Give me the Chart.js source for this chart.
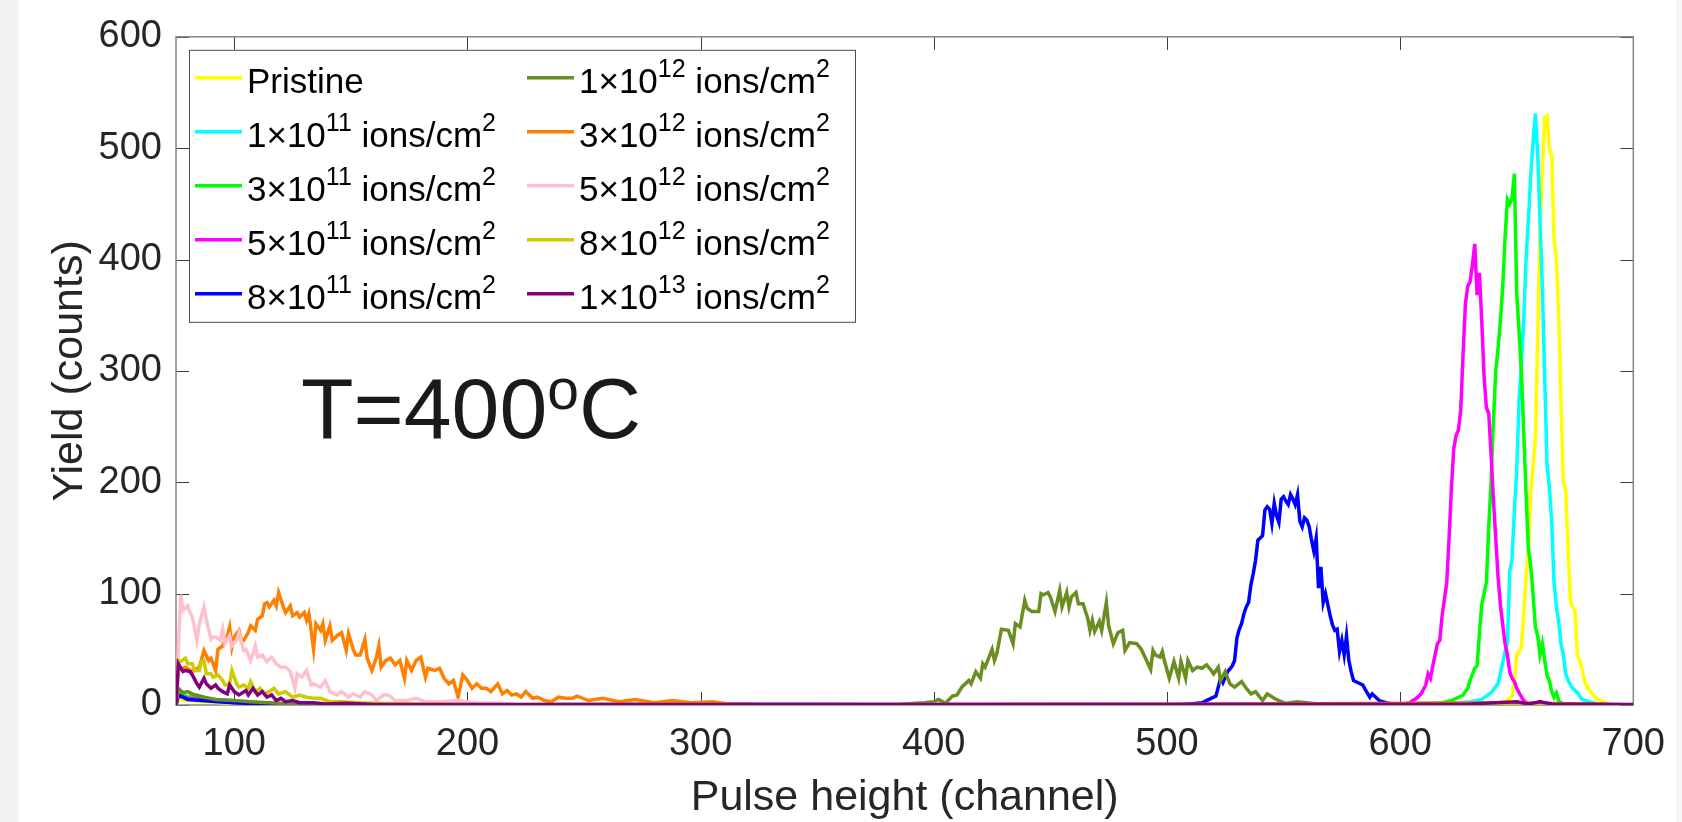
<!DOCTYPE html>
<html>
<head>
    <meta charset="UTF-8">
    <title>Yield vs pulse height, T=400ºC</title>
    <script src="https://cdn.jsdelivr.net/npm/chart.js"></script>
    <style>
        html, body {
            margin: 0;
            padding: 0;
        }

        body {
            width: 1682px;
            height: 822px;
            overflow: hidden;
            background: linear-gradient(to right, #f2f2f2 0 19px, #ffffff 19px 1676px, #f6f6f6 1676px);
        }

        .chart-container {
            position: relative;
            width: 1682px;
            height: 822px;
        }
    </style>
</head>
<body>
<div class="chart-container">
    <canvas id="rbsChart"></canvas>
</div>

<script>
    // legend text, ^{..} marks a superscript
    const seriesLabels = [
        'Pristine',
        '1×10^{11} ions/cm^{2}',
        '3×10^{11} ions/cm^{2}',
        '5×10^{11} ions/cm^{2}',
        '8×10^{11} ions/cm^{2}',
        '1×10^{12} ions/cm^{2}',
        '3×10^{12} ions/cm^{2}',
        '5×10^{12} ions/cm^{2}',
        '8×10^{12} ions/cm^{2}',
        '1×10^{13} ions/cm^{2}'
    ];
    const seriesColors = ['#ffff00', '#00ffff', '#00ff00', '#ff00ff', '#0000ff',
        '#6b8e23', '#ff8000', '#ffc0cb', '#cccc00', '#800080'];

    const xTickValues = [100, 200, 300, 400, 500, 600, 700];
    const yTickValues = [0, 100, 200, 300, 400, 500, 600];
    const xTitle = 'Pulse height (channel)';
    const yTitle = 'Yield (counts)';
    const tempText = 'T=400^{o}C';

    // [channel, counts]
    const pristine = [[75,0],[76,5],[80,4],[86,3],[95,2],[110,1],[130,0],[250,0.5],[400,0],[560,0.5],[620,1],[640,2],
        [645,3],[648,8],[649,20],[650,45],[651,48],[652,52],[653,80],[654,115],[655,140],[656,190],[657,215],[658,240],
        [659,330],[660,430],[661,480],[662,527],[663,529],[664,500],[665,493],[666,420],[667,400],[668,350],[669,270],
        [670,200],[671,194],[672,140],[673,93],[674,88],[675,85],[676,45],[677,40],[678,33],[679,22],[680,17],[682,11],
        [684,6],[686,4],[688,2],[690,0],[700,0]];
    const ions1e11 = [[75,0],[76,10],[79,6],[83,7],[88,4],[95,3],[105,2],[120,0.5],[140,0],[300,0.5],[450,0],[600,0.5],
        [625,2],[630,3],[635,5],[639,11],[642,19],[644,38],[645,48],[646,55],[647,120],[648,131],[649,175],[650,210],
        [651,273],[652,305],[653,345],[654,400],[655,435],[656,475],[657,505],[658,531],[659,495],[660,435],[661,375],
        [662,295],[663,215],[664,196],[665,165],[666,110],[667,88],[668,75],[669,55],[670,45],[671,28],[672,22],[674,15],
        [676,11],[678,5],[681,3],[684,1],[688,0],[700,0]];
    const ions3e11 = [[75,0],[76,12],[80,7],[84,9],[90,5],[97,4],[108,2],[125,0.5],[150,0],[350,0.5],[500,0],[600,1],
        [618,2],[622,4],[625,7],[627,9],[629,15],[630,22],[632,33],[633,35],[634,64],[635,90],[636,100],[637,110],
        [638,160],[639,200],[640,255],[641,300],[642,320],[643,345],[644,375],[645,420],[646,454],[647,450],[648,455],
        [649,477],[650,370],[651,335],[652,300],[653,245],[654,190],[655,140],[656,125],[657,100],[658,70],[659,62],
        [660,45],[661,55],[662,40],[663,27],[664,22],[665,12],[666,7],[667,11],[668,4],[669,2],[672,0],[680,1],[700,0]];
    const ions5e11 = [[75,0],[76,8],[80,6],[85,5],[92,4],[100,2],[115,1],[130,0],[300,0.5],[500,0],[595,0.5],[600,0],
        [604,2],[607,6],[609,10],[611,18],[612,28],[613,24],[614,35],[615,45],[616,55],[617,58],[618,80],[619,95],
        [620,110],[621,150],[622,195],[623,230],[624,242],[625,247],[626,265],[627,315],[628,360],[629,376],[630,380],
        [631,395],[632,414],[633,368],[634,388],[635,345],[636,295],[637,267],[638,262],[639,225],[640,185],[641,150],
        [642,115],[643,90],[644,72],[645,55],[646,45],[647,30],[648,24],[649,21],[650,15],[651,11],[653,4],[655,1],
        [658,0],[660,3],[662,0],[700,0]];
    const ions8e11 = [[75,0],[76,9],[80,5],[86,4],[93,3],[100,2],[112,1],[130,0],[300,0.5],[505,0],[510,1],[515,2],
        [518,5],[521,8],[522,16],[523,24],[524,20],[525,25],[526,30],[528,35],[529,40],[530,60],[531,68],[532,73],
        [533,82],[534,88],[535,92],[536,108],[537,118],[538,130],[539,148],[540,150],[541,152],[542,175],[543,178],
        [544,176],[545,163],[546,181],[547,170],[548,164],[549,185],[550,187],[551,183],[552,180],[553,189],[554,185],
        [555,180],[556,189],[557,165],[558,160],[559,168],[560,166],[561,160],[562,148],[563,138],[564,150],[565,105],
        [566,124],[567,92],[568,100],[569,90],[570,80],[571,72],[572,67],[573,68],[574,48],[575,58],[576,45],[577,62],
        [578,40],[579,30],[580,22],[582,20],[584,18],[585,14],[587,7],[588,10],[589,8],[591,4],[594,2],[599,0],[640,1],
        [700,0]];
    const ions1e12 = [[75,0],[76,15],[78,11],[80,12],[83,9],[87,7],[92,5],[100,4],[107,3],[115,2],[125,1],[150,0.5],
        [250,0],[384,0],[392,1.5],[396,2],[400,3],[402,5],[405,1.5],[408,8],[410,9],[412,16],[415,22],[416,19],[418,30],
        [420,24],[421,37],[422,34],[425,50],[426,40],[427,46],[429,68],[432,67],[434,55],[435,73],[437,70],[439,94],
        [440,87],[442,84],[445,84],[446,100],[447,99],[449,101],[450,97],[452,84],[454,103],[455,88],[457,101],[458,88],
        [459,97],[461,101],[462,91],[464,91],[466,78],[467,67],[468,76],[469,66],[471,75],[472,67],[474,92],[475,71],
        [477,55],[479,65],[481,67],[482,49],[484,56],[487,55],[489,50],[491,41],[493,32],[494,49],[495,45],[497,43],
        [498,48],[499,39],[501,24],[503,39],[505,24],[506,39],[508,24],[509,40],[511,31],[513,34],[515,33],[517,36],
        [519,31],[520,28],[522,34],[523,22],[525,30],[527,19],[529,16],[532,21],[534,15],[536,10],[538,12],[541,4],
        [543,10],[546,6],[548,4],[551,1.5],[556,3],[562,1.5],[570,0],[620,1],[700,0]];
    const ions3e12 = [[75,0],[76,31],[79,34],[82,30],[85,34],[87,49],[89,40],[90,42],[92,31],[93,50],[95,53],[97,62],
        [98,70],[99,52],[100,61],[102,67],[103,58],[104,58],[106,65],[107,71],[109,67],[110,77],[112,80],[113,91],
        [114,92],[115,88],[117,94],[118,89],[119,101],[120,95],[121,88],[122,83],[124,89],[125,80],[127,83],[128,79],
        [130,83],[131,76],[132,82],[134,50],[135,73],[137,67],[138,73],[139,58],[141,71],[142,58],[144,62],[146,65],
        [148,49],[149,64],[151,50],[152,45],[154,45],[156,59],[157,42],[159,31],[161,43],[162,53],[163,34],[165,40],
        [167,42],[169,36],[171,40],[173,24],[174,40],[176,31],[178,40],[180,43],[182,25],[183,33],[186,31],[188,33],
        [190,24],[192,19],[194,22],[196,7],[198,27],[200,22],[202,15],[204,19],[206,15],[208,15],[210,12],[213,19],
        [215,10],[217,13],[219,9],[221,10],[223,7],[225,12],[228,6],[230,7],[233,4],[236,3],[239,7],[242,6],[245,6],
        [247,8],[252,4],[258,6],[265,3],[272,5],[280,2],[288,4],[296,2],[305,3],[312,1],[330,0],[500,0.5],[650,2],
        [700,0]];
    const ions5e12 = [[75,0],[77,99],[78,85],[80,89],[81,83],[82,79],[84,58],[85,73],[87,88],[88,77],[90,59],[91,61],
        [92,61],[94,58],[95,68],[96,55],[98,62],[99,53],[101,58],[102,65],[104,49],[105,50],[107,40],[109,53],[110,43],
        [112,45],[114,39],[116,43],[118,37],[120,34],[122,34],[124,30],[126,15],[127,28],[129,25],[131,31],[133,18],
        [134,19],[137,16],[139,22],[141,12],[144,9],[146,12],[149,7],[151,10],[154,7],[156,12],[159,9],[161,4],[164,9],
        [166,9],[169,4],[174,4],[178,6],[182,3],[189,3],[196,4],[203,2],[213,1.5],[225,0],[400,0.5],[700,0]];
    const ions8e12 = [[75,2],[76,40],[77,39],[79,42],[80,37],[82,37],[83,31],[85,31],[86,39],[87,40],[88,28],[90,28],
        [91,25],[93,27],[95,22],[96,18],[98,19],[99,31],[101,19],[102,16],[104,18],[106,15],[107,21],[109,12],[111,15],
        [113,10],[115,12],[117,15],[119,10],[122,12],[125,7],[128,9],[131,7],[134,6],[137,6],[141,3],[146,3],[154,2],
        [161,1.5],[175,1],[200,0.5],[230,0],[450,0.5],[700,0]];
    const ions1e13 = [[75,0],[76,37],[78,30],[79,31],[81,30],[82,27],[84,19],[85,16],[87,24],[88,19],[90,15],[92,18],
        [93,15],[95,12],[97,10],[98,18],[100,12],[102,9],[105,13],[106,9],[108,15],[110,9],[112,12],[114,7],[116,9],
        [118,4],[120,6],[122,3],[125,4],[128,2],[134,2],[139,1],[148,1.5],[160,0.5],[300,0.5],[630,1],[650,3],[655,1],
        [660,3],[665,1],[700,0.5]];

    const seriesData = [pristine, ions1e11, ions3e11, ions5e11, ions8e11,
        ions1e12, ions3e12, ions5e12, ions8e12, ions1e13];

    const fontFamily = "'Liberation Sans', Arial, Helvetica, sans-serif";
    Chart.defaults.font.family = fontFamily;

    // text with ^{..} superscripts, left aligned on a baseline
    function drawRich(ctx, text, x, y, size, supScale, supRaise) {
        const parts = text.split(/\^\{([^}]*)\}/);
        let cx = x;
        parts.forEach((p, i) => {
            if (!p) return;
            const sup = i % 2 === 1;
            ctx.font = (sup ? Math.round(size * supScale) : size) + 'px ' + fontFamily;
            ctx.fillText(p, cx, sup ? y - size * supRaise : y);
            cx += ctx.measureText(p).width;
        });
    }

    // box round the axes with inward ticks on all four sides
    const axesBox = {
        id: 'axesBox',
        beforeDatasetsDraw(chart) {
            const {ctx, chartArea: a, scales: {x, y}} = chart;
            const len = 13;
            ctx.save();
            ctx.strokeStyle = '#3c3c3c';
            ctx.lineWidth = 1;
            ctx.beginPath();
            x.ticks.forEach(t => {
                const px = Math.round(x.getPixelForValue(t.value)) + 0.5;
                ctx.moveTo(px, a.bottom);
                ctx.lineTo(px, a.bottom - len);
                ctx.moveTo(px, a.top);
                ctx.lineTo(px, a.top + len);
            });
            y.ticks.forEach(t => {
                const py = Math.round(y.getPixelForValue(t.value)) + 0.5;
                ctx.moveTo(a.left, py);
                ctx.lineTo(a.left + len, py);
                ctx.moveTo(a.right, py);
                ctx.lineTo(a.right - len, py);
            });
            ctx.stroke();
            ctx.strokeStyle = '#858585';
            ctx.lineWidth = 1.5;
            ctx.strokeRect(a.left, a.top, a.right - a.left, a.bottom - a.top);
            ctx.restore();
        }
    };

    // two-column legend inside the axes, column by column like the original
    const insideLegend = {
        id: 'insideLegend',
        afterDatasetsDraw(chart) {
            const {ctx, chartArea: a} = chart;
            const bx = a.left + 13, by = a.top + 13, bw = 666, bh = 272;
            ctx.save();
            ctx.fillStyle = '#ffffff';
            ctx.fillRect(bx, by, bw, bh);
            ctx.strokeStyle = '#4d4d4d';
            ctx.lineWidth = 1;
            ctx.strokeRect(bx + 0.5, by + 0.5, bw, bh);
            ctx.textBaseline = 'alphabetic';
            ctx.textAlign = 'left';
            chart.data.datasets.forEach((ds, i) => {
                const col = Math.floor(i / 5), row = i % 5;
                const lx = bx + 6 + col * 332;
                const ly = by + 28 + row * 54;
                ctx.strokeStyle = ds.borderColor;
                ctx.lineWidth = 3.5;
                ctx.beginPath();
                ctx.moveTo(lx, ly);
                ctx.lineTo(lx + 47, ly);
                ctx.stroke();
                ctx.fillStyle = '#000000';
                drawRich(ctx, ds.label, lx + 52, ly + 15, 35, 0.72, 0.45);
            });
            ctx.restore();
        }
    };

    const tempLabel = {
        id: 'tempLabel',
        afterDatasetsDraw(chart) {
            const {ctx, chartArea: a} = chart;
            ctx.save();
            ctx.fillStyle = '#1a1a1a';
            ctx.textBaseline = 'alphabetic';
            ctx.textAlign = 'left';
            drawRich(ctx, tempText, a.left + 125, a.top + 401, 86, 0.66, 0.33);
            ctx.restore();
        }
    };

    const datasets = seriesLabels.map((label, i) => ({
        label: label,
        data: seriesData[i].map(p => ({x: p[0], y: p[1]})),
        borderColor: seriesColors[i],
        backgroundColor: seriesColors[i],
        borderWidth: 3.5,
        pointRadius: 0,
        tension: 0,
        fill: false,
        order: seriesLabels.length - 1 - i
    }));

    const ctx = document.getElementById('rbsChart').getContext('2d');
    new Chart(ctx, {
        type: 'line',
        data: {datasets: datasets},
        options: {
            responsive: true,
            maintainAspectRatio: false,
            animation: false,
            layout: {padding: {top: 30, right: 42, left: 0, bottom: 0}},
            plugins: {
                legend: {display: false},
                tooltip: {enabled: false}
            },
            scales: {
                x: {
                    type: 'linear',
                    min: 75,
                    max: 700,
                    afterBuildTicks: s => { s.ticks = xTickValues.map(v => ({value: v})); },
                    afterFit: s => { s.height = 117; },
                    grid: {display: false, drawTicks: false},
                    border: {display: false},
                    ticks: {
                        font: {size: 38},
                        color: '#262626',
                        padding: 17,
                        maxRotation: 0,
                        autoSkip: false,
                        callback: v => String(v)
                    },
                    title: {
                        display: true,
                        text: xTitle,
                        font: {size: 43, lineHeight: 1.1},
                        color: '#262626',
                        padding: {top: 0, bottom: 0}
                    }
                },
                y: {
                    min: 0,
                    max: 600,
                    afterBuildTicks: s => { s.ticks = yTickValues.map(v => ({value: v})); },
                    afterFit: s => { s.width = 176; },
                    grid: {display: false, drawTicks: false},
                    border: {display: false},
                    ticks: {
                        font: {size: 38},
                        color: '#262626',
                        padding: 14,
                        callback: v => String(v)
                    },
                    title: {
                        display: true,
                        text: yTitle,
                        font: {size: 43},
                        color: '#262626',
                        padding: {top: 44, bottom: 0}
                    }
                }
            }
        },
        plugins: [axesBox, insideLegend, tempLabel]
    });
</script>
</body>
</html>
